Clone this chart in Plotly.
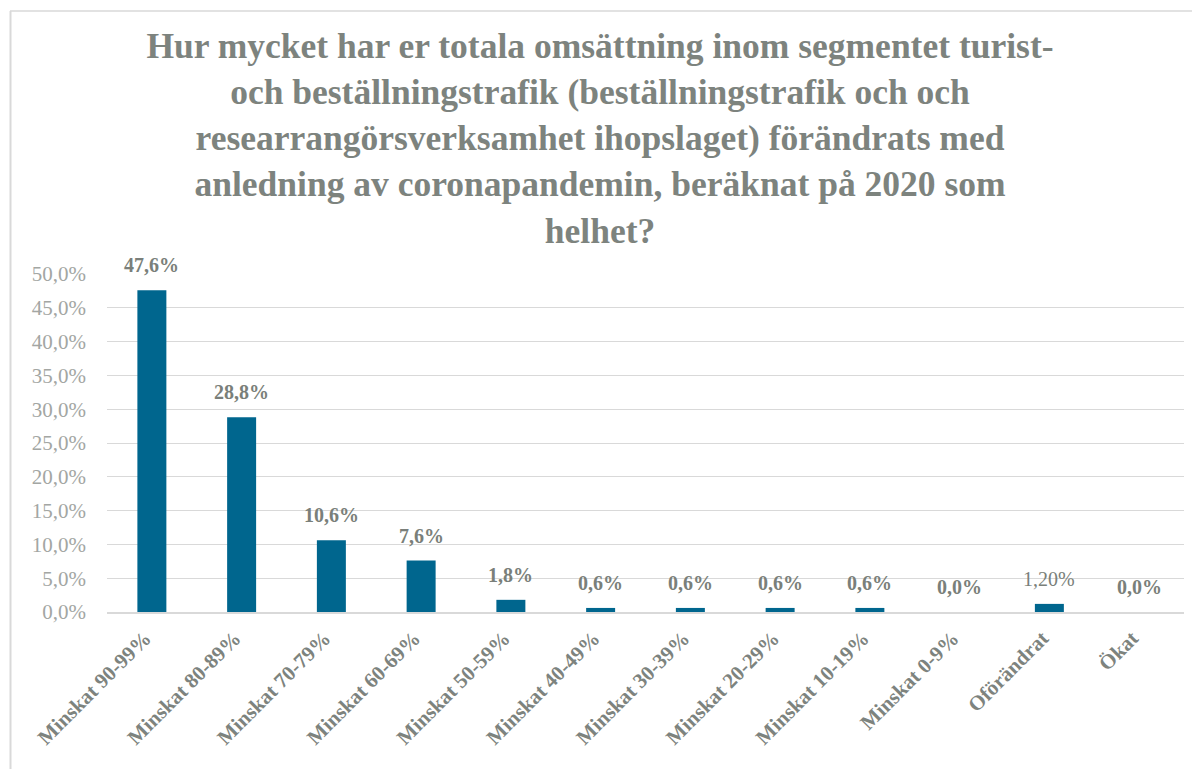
import plotly.graph_objects as go

categories = ["Minskat 90-99%", "Minskat 80-89%", "Minskat 70-79%", "Minskat 60-69%",
              "Minskat 50-59%", "Minskat 40-49%", "Minskat 30-39%", "Minskat 20-29%",
              "Minskat 10-19%", "Minskat 0-9%", "Oförändrat", "Ökat"]
values = [47.6, 28.8, 10.6, 7.6, 1.8, 0.6, 0.6, 0.6, 0.6, 0.0, 1.2, 0.0]
labels = ["<b>47,6%</b>", "<b>28,8%</b>", "<b>10,6%</b>", "<b>7,6%</b>", "<b>1,8%</b>",
          "<b>0,6%</b>", "<b>0,6%</b>", "<b>0,6%</b>", "<b>0,6%</b>", "<b>0,0%</b>",
          "1,20%", "<b>0,0%</b>"]
tick_vals = [0, 5, 10, 15, 20, 25, 30, 35, 40, 45, 50]
tick_text = ["0,0%", "5,0%", "10,0%", "15,0%", "20,0%", "25,0%", "30,0%", "35,0%",
             "40,0%", "45,0%", "50,0%"]

title = ("<b>Hur mycket har er totala omsättning inom segmentet turist-<br>"
         "och beställningstrafik (beställningstrafik och och<br>"
         "researrangörsverksamhet ihopslaget) förändrats med<br>"
         "anledning av coronapandemin, beräknat på 2020 som<br>"
         "helhet?</b>")

# page is offset by the 8px body margin
OFF = 8
W, H = 1200 - OFF, 769 - OFF
L, R, T, B = 107 - OFF, 1184 - OFF, 274 - OFF, 612 - OFF

fig = go.Figure(go.Bar(
    x=categories, y=values,
    marker=dict(color="#00668E", line=dict(width=0)),
))

for c, v, t in zip(categories, values, labels):
    fig.add_annotation(x=c, y=v, text=t, showarrow=False, yanchor="bottom",
                       yshift=12, font=dict(family="Liberation Serif", size=20, color="#7a7f7a"))

fig.update_layout(
    width=W, height=H,
    margin=dict(l=L, r=W - R, t=T, b=H - B, autoexpand=False),
    paper_bgcolor="white", plot_bgcolor="white",
    bargap=0.677,
    showlegend=False,
    title=dict(text=title, x=(600 - OFF) / W, xanchor="center", y=1 - (58 - OFF) / H, yanchor="top",
               font=dict(family="Liberation Serif", size=35.5, color="#7d837e")),
    font=dict(family="Liberation Serif", color="#7d837e"),
    xaxis=dict(tickangle=-45,
               tickfont=dict(family="Liberation Serif", size=21, color="#7d837e", weight="bold"),
               ticklabelshift=-7, ticklabelstandoff=4,
               showline=True, linecolor="#d9d9d9", linewidth=1.5, ticks="",
               showgrid=False),
    yaxis=dict(range=[0, 50], tickvals=tick_vals, ticktext=tick_text,
               tickfont=dict(family="Liberation Serif", size=21, color="#a3a6a3"),
               ticklabelstandoff=20,
               showgrid=True, gridcolor="#d9d9d9", gridwidth=1, zeroline=False,
               showline=False, ticks=""),
    shapes=[
        dict(type="line", xref="paper", yref="paper",
             x0=(10 - OFF - L) / (R - L), x1=(W + 5 - L) / (R - L),
             y0=(B - (11 - OFF)) / (B - T), y1=(B - (11 - OFF)) / (B - T),
             line=dict(color="#d9d9d9", width=1.5)),
        dict(type="line", xref="paper", yref="paper",
             x0=(10.5 - OFF - L) / (R - L), x1=(10.5 - OFF - L) / (R - L),
             y0=(B - (11 - OFF)) / (B - T), y1=(B - H - 5) / (B - T),
             line=dict(color="#d9d9d9", width=2)),
    ],
)

fig.write_html("out.html")
